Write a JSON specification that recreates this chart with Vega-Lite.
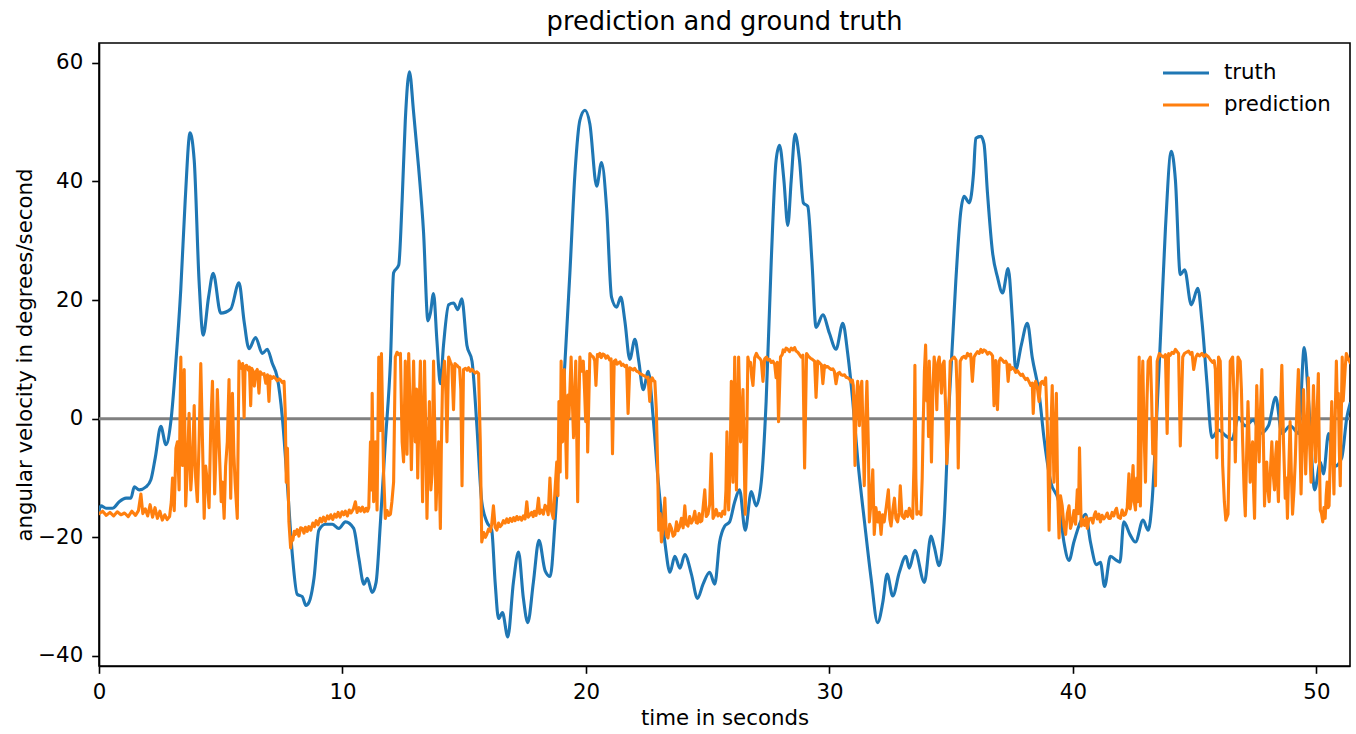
{
"$schema": "https://vega.github.io/schema/vega-lite/v6.json",
"width": 1251, "height": 623,
"autosize": {"type": "none"},
"padding": {"left": 99, "top": 43, "right": 6, "bottom": 68},
"background": "white",
"title": {"text": "prediction and ground truth", "fontSize": 25.7, "font": "DejaVu Sans", "fontWeight": "normal", "color": "black", "anchor": "middle", "baseline": "alphabetic", "offset": -12.5},
"config": {
 "font": "DejaVu Sans",
 "view": {"stroke": "black", "strokeWidth": 1.6},
 "axis": {"grid": false, "domainColor": "black", "domainWidth": 1.6, "tickColor": "black", "tickWidth": 1.6, "tickSize": 7.3, "labelFontSize": 21.3, "labelColor": "black", "labelFont": "DejaVu Sans", "titleFont": "DejaVu Sans", "titleFontSize": 21.3, "titleFontWeight": "normal", "titleColor": "black", "labelFlush": false, "labelOverlap": false}
},
"datasets": {
"truth": [
{"t":0,"v":-15.5},{"t":0.08,"v":-14.7},{"t":0.29,"v":-15.1},{"t":0.56,"v":-15.1},{"t":0.83,"v":-14.0},{"t":1.11,"v":-13.4},{"t":1.31,"v":-13.4},{"t":1.45,"v":-11.5},{"t":1.65,"v":-12.0},{"t":1.93,"v":-11.5},{"t":2.13,"v":-10.3},{"t":2.31,"v":-6.6},{"t":2.54,"v":-1.3},{"t":2.75,"v":-4.4},{"t":2.95,"v":-0.5},{"t":3.16,"v":9.7},{"t":3.36,"v":21.9},{"t":3.54,"v":36.8},{"t":3.74,"v":48.2},{"t":3.91,"v":43.6},{"t":4.11,"v":23.2},{"t":4.28,"v":14.1},{"t":4.5,"v":20.5},{"t":4.69,"v":24.5},{"t":5.0,"v":17.8},{"t":5.41,"v":18.5},{"t":5.75,"v":22.9},{"t":5.96,"v":16.4},{"t":6.16,"v":11.8},{"t":6.43,"v":13.7},{"t":6.71,"v":11.0},{"t":6.91,"v":11.7},{"t":7.12,"v":9.3},{"t":7.32,"v":7.0},{"t":7.53,"v":0.2},{"t":7.73,"v":-10.7},{"t":7.94,"v":-22.9},{"t":8.14,"v":-29.6},{"t":8.35,"v":-30.0},{"t":8.5,"v":-31.5},{"t":8.62,"v":-31.0},{"t":8.75,"v":-29.0},{"t":8.83,"v":-26.9},{"t":9.03,"v":-18.8},{"t":9.3,"v":-17.8},{"t":9.58,"v":-17.8},{"t":9.85,"v":-18.5},{"t":10.12,"v":-17.4},{"t":10.46,"v":-18.5},{"t":10.67,"v":-23.5},{"t":10.88,"v":-27.9},{"t":11.02,"v":-26.9},{"t":11.22,"v":-29.3},{"t":11.38,"v":-27.6},{"t":11.56,"v":-17.4},{"t":11.76,"v":-3.9},{"t":11.97,"v":9.7},{"t":12.1,"v":24.6},{"t":12.31,"v":25.9},{"t":12.45,"v":36.8},{"t":12.58,"v":50.3},{"t":12.75,"v":58.5},{"t":12.92,"v":51.7},{"t":13.13,"v":42.2},{"t":13.33,"v":31.4},{"t":13.51,"v":16.5},{"t":13.61,"v":17.8},{"t":13.74,"v":21.1},{"t":13.88,"v":13.1},{"t":14.02,"v":5.9},{"t":14.15,"v":12.4},{"t":14.36,"v":19.2},{"t":14.56,"v":19.5},{"t":14.74,"v":18.4},{"t":14.9,"v":20.2},{"t":15.11,"v":12.4},{"t":15.32,"v":9.7},{"t":15.52,"v":-1.2},{"t":15.72,"v":-14.0},{"t":15.93,"v":-17.4},{"t":16.13,"v":-18.8},{"t":16.27,"v":-27.6},{"t":16.41,"v":-33.7},{"t":16.57,"v":-32.7},{"t":16.79,"v":-36.8},{"t":17.02,"v":-27.6},{"t":17.23,"v":-22.5},{"t":17.43,"v":-30.3},{"t":17.61,"v":-34.4},{"t":17.84,"v":-27.6},{"t":18.07,"v":-20.5},{"t":18.32,"v":-25.6},{"t":18.53,"v":-26.6},{"t":18.73,"v":-17.4},{"t":18.93,"v":-3.9},{"t":19.14,"v":9.7},{"t":19.34,"v":24.6},{"t":19.55,"v":41.5},{"t":19.75,"v":50.3},{"t":19.96,"v":52.0},{"t":20.16,"v":49.7},{"t":20.44,"v":39.2},{"t":20.64,"v":43.2},{"t":20.85,"v":35.4},{"t":21.05,"v":20.5},{"t":21.26,"v":18.8},{"t":21.43,"v":20.5},{"t":21.6,"v":16.4},{"t":21.8,"v":10.0},{"t":22.01,"v":13.4},{"t":22.17,"v":9.7},{"t":22.35,"v":4.9},{"t":22.56,"v":8.0},{"t":22.76,"v":0.2},{"t":22.97,"v":-10.7},{"t":23.24,"v":-20.8},{"t":23.45,"v":-25.9},{"t":23.65,"v":-23.2},{"t":23.86,"v":-25.2},{"t":24.06,"v":-22.9},{"t":24.33,"v":-26.2},{"t":24.58,"v":-30.3},{"t":24.81,"v":-27.9},{"t":25.08,"v":-25.9},{"t":25.29,"v":-27.9},{"t":25.49,"v":-20.8},{"t":25.7,"v":-18.1},{"t":25.9,"v":-17.4},{"t":26.11,"v":-14.0},{"t":26.31,"v":-12.0},{"t":26.54,"v":-18.8},{"t":26.79,"v":-12.3},{"t":26.99,"v":-14.7},{"t":27.2,"v":-10.7},{"t":27.4,"v":2.9},{"t":27.61,"v":26.6},{"t":27.81,"v":43.6},{"t":27.95,"v":46.1},{"t":28.13,"v":40.2},{"t":28.29,"v":32.6},{"t":28.43,"v":40.2},{"t":28.59,"v":48.0},{"t":28.77,"v":43.6},{"t":28.93,"v":36.4},{"t":29.11,"v":35.8},{"t":29.28,"v":26.6},{"t":29.45,"v":15.4},{"t":29.73,"v":17.5},{"t":30.0,"v":14.4},{"t":30.27,"v":11.7},{"t":30.55,"v":16.1},{"t":30.75,"v":11.0},{"t":30.96,"v":2.9},{"t":31.17,"v":-7.3},{"t":31.44,"v":-17.4},{"t":31.71,"v":-26.9},{"t":31.98,"v":-34.4},{"t":32.19,"v":-31.0},{"t":32.37,"v":-26.2},{"t":32.6,"v":-29.9},{"t":32.87,"v":-25.9},{"t":33.14,"v":-23.2},{"t":33.28,"v":-25.2},{"t":33.51,"v":-22.2},{"t":33.9,"v":-27.6},{"t":34.17,"v":-19.8},{"t":34.3,"v":-21.5},{"t":34.51,"v":-24.8},{"t":34.71,"v":-17.4},{"t":34.92,"v":2.9},{"t":35.19,"v":23.2},{"t":35.39,"v":34.8},{"t":35.53,"v":37.5},{"t":35.74,"v":36.4},{"t":35.92,"v":41.5},{"t":36.01,"v":47.3},{"t":36.22,"v":47.6},{"t":36.35,"v":46.3},{"t":36.49,"v":38.1},{"t":36.7,"v":28.0},{"t":36.9,"v":23.9},{"t":37.11,"v":21.2},{"t":37.34,"v":25.3},{"t":37.52,"v":16.4},{"t":37.65,"v":8.3},{"t":37.88,"v":12.4},{"t":38.13,"v":16.1},{"t":38.33,"v":10.3},{"t":38.61,"v":4.3},{"t":38.81,"v":-3.2},{"t":39.09,"v":-10.7},{"t":39.42,"v":-14.0},{"t":39.63,"v":-20.8},{"t":39.84,"v":-23.9},{"t":40.04,"v":-20.8},{"t":40.31,"v":-17.4},{"t":40.52,"v":-16.1},{"t":40.72,"v":-20.8},{"t":40.97,"v":-24.6},{"t":41.13,"v":-24.2},{"t":41.3,"v":-28.3},{"t":41.54,"v":-23.2},{"t":41.79,"v":-23.9},{"t":41.93,"v":-24.2},{"t":42.09,"v":-17.4},{"t":42.34,"v":-19.5},{"t":42.57,"v":-20.8},{"t":42.88,"v":-17.1},{"t":43.09,"v":-18.8},{"t":43.25,"v":-14.0},{"t":43.39,"v":-3.9},{"t":43.59,"v":13.1},{"t":43.8,"v":32.1},{"t":44.04,"v":45.1},{"t":44.21,"v":40.2},{"t":44.41,"v":24.3},{"t":44.59,"v":25.1},{"t":44.86,"v":19.2},{"t":45.13,"v":22.0},{"t":45.3,"v":16.4},{"t":45.5,"v":6.3},{"t":45.71,"v":-3.2},{"t":45.98,"v":-1.9},{"t":46.28,"v":-2.9},{"t":46.53,"v":-3.5},{"t":46.8,"v":0.2},{"t":47.08,"v":-1.2},{"t":47.42,"v":-0.2},{"t":47.69,"v":-2.5},{"t":48.03,"v":-1.2},{"t":48.33,"v":3.6},{"t":48.58,"v":-2.5},{"t":48.93,"v":-1.2},{"t":49.27,"v":-2.5},{"t":49.5,"v":12.0},{"t":49.68,"v":2.9},{"t":49.93,"v":-12.0},{"t":50.16,"v":-7.3},{"t":50.29,"v":-9.3},{"t":50.5,"v":-2.5},{"t":50.77,"v":-8.0},{"t":51.04,"v":-6.6},{"t":51.25,"v":0.2},{"t":51.38,"v":2.5}
],
"pred": [
{"t":0,"v":-16.0},{"t":0.15,"v":-15.6},{"t":0.3,"v":-16.3},{"t":0.45,"v":-15.8},{"t":0.6,"v":-16.4},{"t":0.75,"v":-15.7},{"t":0.9,"v":-16.2},{"t":1.05,"v":-15.9},{"t":1.2,"v":-16.5},{"t":1.35,"v":-15.6},{"t":1.5,"v":-16.3},{"t":1.62,"v":-15.5},{"t":1.72,"v":-12.7},{"t":1.8,"v":-16.0},{"t":1.9,"v":-15.2},{"t":2.0,"v":-16.4},{"t":2.1,"v":-14.5},{"t":2.2,"v":-16.6},{"t":2.3,"v":-15.0},{"t":2.4,"v":-16.8},{"t":2.5,"v":-15.6},{"t":2.6,"v":-17.1},{"t":2.7,"v":-16.2},{"t":2.8,"v":-17.0},{"t":2.9,"v":-16.5},{"t":2.97,"v":-14.0},{"t":3.02,"v":-10.0},{"t":3.09,"v":-15.5},{"t":3.16,"v":-5.0},{"t":3.22,"v":-3.9},{"t":3.29,"v":-12.0},{"t":3.36,"v":10.4},{"t":3.43,"v":-7.9},{"t":3.5,"v":8.3},{"t":3.56,"v":-14.7},{"t":3.63,"v":-8},{"t":3.7,"v":0.9},{"t":3.77,"v":-12},{"t":3.84,"v":-7.3},{"t":3.91,"v":2.2},{"t":3.97,"v":-10},{"t":4.04,"v":-14.0},{"t":4.11,"v":-4},{"t":4.18,"v":9.3},{"t":4.25,"v":-3.9},{"t":4.32,"v":-16.8},{"t":4.38,"v":-8},{"t":4.45,"v":-10.7},{"t":4.52,"v":-15},{"t":4.59,"v":-1.2},{"t":4.66,"v":6.3},{"t":4.75,"v":-12.7},{"t":4.81,"v":-5},{"t":4.86,"v":4.9},{"t":4.96,"v":-7.3},{"t":5.02,"v":-14},{"t":5.07,"v":-10.7},{"t":5.14,"v":-16.8},{"t":5.2,"v":-8},{"t":5.27,"v":-3.9},{"t":5.34,"v":6.6},{"t":5.41,"v":-13.4},{"t":5.48,"v":4.3},{"t":5.54,"v":-6},{"t":5.59,"v":-10.7},{"t":5.68,"v":-16.8},{"t":5.75,"v":9.7},{"t":5.8,"v":9.0},{"t":5.85,"v":8.5},{"t":5.9,"v":9.3},{"t":5.96,"v":0.2},{"t":6.0,"v":8.8},{"t":6.06,"v":9.0},{"t":6.13,"v":8.2},{"t":6.18,"v":8.7},{"t":6.23,"v":2.2},{"t":6.27,"v":8.5},{"t":6.33,"v":8.0},{"t":6.38,"v":5.5},{"t":6.43,"v":7.8},{"t":6.5,"v":8.3},{"t":6.57,"v":4.3},{"t":6.62,"v":7.9},{"t":6.7,"v":7.5},{"t":6.78,"v":7.6},{"t":6.85,"v":6.0},{"t":6.92,"v":7.4},{"t":6.98,"v":2.9},{"t":7.03,"v":7.2},{"t":7.1,"v":6.8},{"t":7.17,"v":7.1},{"t":7.25,"v":6.8},{"t":7.32,"v":6.4},{"t":7.4,"v":6.7},{"t":7.46,"v":6.5},{"t":7.53,"v":6.1},{"t":7.6,"v":6.3},{"t":7.65,"v":1.0},{"t":7.69,"v":-10.7},{"t":7.74,"v":-5},{"t":7.8,"v":-17.4},{"t":7.87,"v":-21.8},{"t":7.92,"v":-20.0},{"t":7.96,"v":-20.5},{"t":8.02,"v":-19.0},{"t":8.07,"v":-19.5},{"t":8.14,"v":-18.7},{"t":8.21,"v":-19.8},{"t":8.28,"v":-18.4},{"t":8.35,"v":-18.5},{"t":8.42,"v":-19.3},{"t":8.48,"v":-18.3},{"t":8.55,"v":-19.0},{"t":8.62,"v":-18.2},{"t":8.7,"v":-18.8},{"t":8.78,"v":-17.6},{"t":8.85,"v":-18.2},{"t":8.92,"v":-17.2},{"t":9.0,"v":-17.9},{"t":9.08,"v":-16.8},{"t":9.15,"v":-17.4},{"t":9.22,"v":-16.6},{"t":9.3,"v":-17.3},{"t":9.38,"v":-16.4},{"t":9.45,"v":-16.9},{"t":9.52,"v":-16.2},{"t":9.6,"v":-17.0},{"t":9.68,"v":-16.1},{"t":9.75,"v":-16.6},{"t":9.82,"v":-15.8},{"t":9.9,"v":-16.6},{"t":9.98,"v":-15.7},{"t":10.05,"v":-16.2},{"t":10.12,"v":-15.6},{"t":10.2,"v":-16.4},{"t":10.28,"v":-15.4},{"t":10.35,"v":-15.9},{"t":10.45,"v":-15.2},{"t":10.53,"v":-14.0},{"t":10.6,"v":-15.8},{"t":10.68,"v":-15.0},{"t":10.75,"v":-15.6},{"t":10.82,"v":-14.9},{"t":10.9,"v":-15.7},{"t":10.97,"v":-15.1},{"t":11.03,"v":-15.6},{"t":11.08,"v":-15.0},{"t":11.15,"v":-3.9},{"t":11.19,"v":-12},{"t":11.22,"v":4.3},{"t":11.28,"v":-14.0},{"t":11.35,"v":-3.9},{"t":11.42,"v":-15.4},{"t":11.49,"v":10.4},{"t":11.55,"v":-2},{"t":11.6,"v":11.0},{"t":11.65,"v":0},{"t":11.69,"v":-9.3},{"t":11.76,"v":-16.8},{"t":11.83,"v":-15.5},{"t":11.9,"v":-16.3},{"t":11.97,"v":-16.1},{"t":12.03,"v":-14},{"t":12.1,"v":-10.7},{"t":12.17,"v":10.4},{"t":12.24,"v":11.2},{"t":12.31,"v":10.8},{"t":12.38,"v":11.0},{"t":12.45,"v":-3.9},{"t":12.51,"v":-7.3},{"t":12.58,"v":9.7},{"t":12.65,"v":-6},{"t":12.72,"v":11.0},{"t":12.78,"v":1},{"t":12.83,"v":-8.6},{"t":12.92,"v":9.7},{"t":12.99,"v":-3.9},{"t":13.04,"v":5},{"t":13.09,"v":-10.0},{"t":13.15,"v":2},{"t":13.2,"v":9.7},{"t":13.29,"v":-14.0},{"t":13.37,"v":9.7},{"t":13.42,"v":-2},{"t":13.47,"v":-16.8},{"t":13.52,"v":-6},{"t":13.57,"v":2.9},{"t":13.63,"v":-12},{"t":13.68,"v":-9.3},{"t":13.74,"v":9.7},{"t":13.8,"v":-4},{"t":13.84,"v":-15.4},{"t":13.9,"v":-8},{"t":13.95,"v":-3.9},{"t":14.02,"v":-18.5},{"t":14.06,"v":-5},{"t":14.11,"v":6.3},{"t":14.19,"v":9.7},{"t":14.25,"v":4},{"t":14.29,"v":-3.9},{"t":14.36,"v":10.4},{"t":14.43,"v":9.6},{"t":14.49,"v":9.0},{"t":14.56,"v":1.5},{"t":14.62,"v":9.3},{"t":14.7,"v":9.0},{"t":14.76,"v":8.7},{"t":14.81,"v":8.6},{"t":14.86,"v":5},{"t":14.91,"v":-11.3},{"t":14.97,"v":8.3},{"t":15.05,"v":8.5},{"t":15.12,"v":8.2},{"t":15.18,"v":8.6},{"t":15.25,"v":8.0},{"t":15.32,"v":8.3},{"t":15.38,"v":8.0},{"t":15.45,"v":7.7},{"t":15.52,"v":7.9},{"t":15.59,"v":7.6},{"t":15.66,"v":-3.9},{"t":15.72,"v":-20.8},{"t":15.8,"v":-19.2},{"t":15.87,"v":-20.0},{"t":15.93,"v":-19.5},{"t":16.0,"v":-18.6},{"t":16.07,"v":-19.0},{"t":16.13,"v":-17.8},{"t":16.2,"v":-14.7},{"t":16.27,"v":-18.3},{"t":16.34,"v":-18.8},{"t":16.41,"v":-17.6},{"t":16.48,"v":-18.2},{"t":16.54,"v":-17.9},{"t":16.61,"v":-17.2},{"t":16.68,"v":-17.6},{"t":16.75,"v":-16.9},{"t":16.82,"v":-17.5},{"t":16.89,"v":-16.8},{"t":16.96,"v":-17.3},{"t":17.03,"v":-16.7},{"t":17.09,"v":-17.2},{"t":17.16,"v":-16.5},{"t":17.22,"v":-17.0},{"t":17.29,"v":-16.6},{"t":17.36,"v":-17.1},{"t":17.43,"v":-16.4},{"t":17.5,"v":-16.9},{"t":17.57,"v":-14.0},{"t":17.63,"v":-16.6},{"t":17.7,"v":-16.2},{"t":17.77,"v":-15.8},{"t":17.83,"v":-16.5},{"t":17.88,"v":-15.6},{"t":17.95,"v":-16.3},{"t":18.0,"v":-15.2},{"t":18.05,"v":-13.4},{"t":18.1,"v":-16.0},{"t":18.18,"v":-15.4},{"t":18.25,"v":-16.1},{"t":18.32,"v":-14.6},{"t":18.39,"v":-15.0},{"t":18.45,"v":-16.2},{"t":18.52,"v":-10.0},{"t":18.58,"v":-15.5},{"t":18.66,"v":-16.8},{"t":18.73,"v":-12},{"t":18.8,"v":-7.3},{"t":18.85,"v":-13},{"t":18.89,"v":2.9},{"t":18.94,"v":-9},{"t":18.98,"v":9.7},{"t":19.04,"v":-3.9},{"t":19.11,"v":8.3},{"t":19.16,"v":-2},{"t":19.21,"v":-10.0},{"t":19.26,"v":4},{"t":19.3,"v":0.2},{"t":19.39,"v":10.4},{"t":19.44,"v":3},{"t":19.49,"v":-3.2},{"t":19.58,"v":9.7},{"t":19.66,"v":-14.0},{"t":19.7,"v":0},{"t":19.75,"v":10.4},{"t":19.82,"v":8},{"t":19.89,"v":9.7},{"t":19.94,"v":5},{"t":19.99,"v":-0.5},{"t":20.04,"v":8},{"t":20.07,"v":-5.6},{"t":20.16,"v":11.0},{"t":20.23,"v":10.6},{"t":20.3,"v":10.4},{"t":20.36,"v":9.8},{"t":20.41,"v":5.6},{"t":20.47,"v":10.8},{"t":20.52,"v":10.5},{"t":20.57,"v":11.0},{"t":20.63,"v":10.3},{"t":20.69,"v":10.9},{"t":20.75,"v":10.8},{"t":20.82,"v":10.2},{"t":20.88,"v":10.6},{"t":20.92,"v":10.4},{"t":20.97,"v":9.9},{"t":21.03,"v":10.1},{"t":21.09,"v":-5.9},{"t":21.16,"v":9.7},{"t":21.22,"v":9.9},{"t":21.28,"v":9.2},{"t":21.33,"v":9.4},{"t":21.4,"v":9.6},{"t":21.46,"v":9.0},{"t":21.52,"v":9.2},{"t":21.6,"v":8.8},{"t":21.67,"v":9.0},{"t":21.73,"v":0.9},{"t":21.8,"v":8.6},{"t":21.87,"v":8.4},{"t":21.94,"v":8.2},{"t":22.0,"v":8.5},{"t":22.08,"v":8.0},{"t":22.15,"v":7.9},{"t":22.21,"v":7.6},{"t":22.28,"v":7.5},{"t":22.35,"v":7.3},{"t":22.42,"v":7.2},{"t":22.49,"v":6.9},{"t":22.55,"v":7.0},{"t":22.62,"v":2.9},{"t":22.67,"v":6.5},{"t":22.72,"v":6.9},{"t":22.78,"v":6.4},{"t":22.83,"v":6.3},{"t":22.89,"v":1.5},{"t":22.94,"v":-7.3},{"t":22.99,"v":-18.8},{"t":23.05,"v":-16},{"t":23.1,"v":-20.8},{"t":23.17,"v":-18.2},{"t":23.24,"v":-13.4},{"t":23.3,"v":-19.6},{"t":23.37,"v":-20.1},{"t":23.44,"v":-17.8},{"t":23.51,"v":-18.5},{"t":23.58,"v":-19.8},{"t":23.65,"v":-19.5},{"t":23.72,"v":-17.4},{"t":23.78,"v":-18.9},{"t":23.85,"v":-18.2},{"t":23.92,"v":-16.8},{"t":23.99,"v":-18.4},{"t":24.06,"v":-14.7},{"t":24.12,"v":-17.8},{"t":24.19,"v":-18.1},{"t":24.26,"v":-16.5},{"t":24.33,"v":-17.6},{"t":24.4,"v":-17.0},{"t":24.47,"v":-15.6},{"t":24.53,"v":-17.5},{"t":24.58,"v":-17.6},{"t":24.65,"v":-16.0},{"t":24.7,"v":-17.4},{"t":24.76,"v":-17.2},{"t":24.81,"v":-15.0},{"t":24.88,"v":-12.0},{"t":24.94,"v":-16.5},{"t":25.01,"v":-16.1},{"t":25.08,"v":-14.5},{"t":25.15,"v":-5.9},{"t":25.22,"v":-16.8},{"t":25.29,"v":-16.2},{"t":25.35,"v":-15.3},{"t":25.42,"v":-16.4},{"t":25.49,"v":-16.0},{"t":25.56,"v":-16.5},{"t":25.62,"v":-15.6},{"t":25.7,"v":-16.1},{"t":25.75,"v":-12},{"t":25.79,"v":-2.2},{"t":25.86,"v":-15.4},{"t":25.92,"v":-8},{"t":25.97,"v":6.3},{"t":26.04,"v":-10.7},{"t":26.11,"v":10.4},{"t":26.18,"v":-12.0},{"t":26.27,"v":10.4},{"t":26.35,"v":-3.9},{"t":26.45,"v":4.9},{"t":26.54,"v":-16.1},{"t":26.6,"v":-4},{"t":26.65,"v":10.4},{"t":26.71,"v":9.0},{"t":26.76,"v":9.5},{"t":26.81,"v":7},{"t":26.86,"v":5.6},{"t":26.93,"v":10.3},{"t":27.0,"v":11.0},{"t":27.07,"v":10.4},{"t":27.13,"v":10.2},{"t":27.2,"v":9.8},{"t":27.27,"v":6.3},{"t":27.34,"v":10.1},{"t":27.41,"v":10.4},{"t":27.47,"v":9.9},{"t":27.54,"v":10.0},{"t":27.61,"v":9.5},{"t":27.68,"v":9.7},{"t":27.75,"v":9.2},{"t":27.81,"v":6.9},{"t":27.86,"v":9.5},{"t":27.91,"v":-0.5},{"t":27.99,"v":10.4},{"t":28.06,"v":10.8},{"t":28.1,"v":11.6},{"t":28.16,"v":11.3},{"t":28.22,"v":11.9},{"t":28.29,"v":11.7},{"t":28.36,"v":11.3},{"t":28.43,"v":11.9},{"t":28.5,"v":11.6},{"t":28.57,"v":12.0},{"t":28.63,"v":11.4},{"t":28.7,"v":11.2},{"t":28.77,"v":10.8},{"t":28.84,"v":10.4},{"t":28.91,"v":10.7},{"t":28.98,"v":-8.3},{"t":29.06,"v":11.0},{"t":29.14,"v":10.5},{"t":29.22,"v":10.2},{"t":29.3,"v":10.0},{"t":29.39,"v":9.7},{"t":29.45,"v":3.6},{"t":29.52,"v":9.7},{"t":29.6,"v":9.4},{"t":29.67,"v":9.1},{"t":29.73,"v":5.9},{"t":29.8,"v":9.0},{"t":29.87,"v":8.7},{"t":29.93,"v":8.8},{"t":30.0,"v":8.5},{"t":30.07,"v":8.3},{"t":30.14,"v":8.4},{"t":30.2,"v":8.0},{"t":30.27,"v":5.9},{"t":30.34,"v":7.6},{"t":30.41,"v":7.8},{"t":30.48,"v":7.4},{"t":30.55,"v":7.3},{"t":30.62,"v":7.4},{"t":30.68,"v":7.0},{"t":30.75,"v":6.9},{"t":30.82,"v":6.7},{"t":30.89,"v":6.2},{"t":30.94,"v":6.5},{"t":30.98,"v":5.6},{"t":31.05,"v":-7.9},{"t":31.1,"v":3},{"t":31.16,"v":6.3},{"t":31.23,"v":-1.2},{"t":31.28,"v":5},{"t":31.33,"v":6.3},{"t":31.43,"v":-11.3},{"t":31.49,"v":0},{"t":31.54,"v":6.3},{"t":31.6,"v":-5},{"t":31.64,"v":-17.4},{"t":31.71,"v":-14},{"t":31.78,"v":-8.6},{"t":31.84,"v":-19.5},{"t":31.91,"v":-15},{"t":31.98,"v":-17.4},{"t":32.05,"v":-15.8},{"t":32.12,"v":-19.5},{"t":32.18,"v":-16.2},{"t":32.25,"v":-17.4},{"t":32.33,"v":-15},{"t":32.42,"v":-12.0},{"t":32.48,"v":-17},{"t":32.53,"v":-18.1},{"t":32.6,"v":-15.5},{"t":32.67,"v":-13.4},{"t":32.73,"v":-16.8},{"t":32.8,"v":-17.4},{"t":32.86,"v":-15.8},{"t":32.91,"v":-11.3},{"t":32.98,"v":-16.4},{"t":33.07,"v":-16.8},{"t":33.14,"v":-15.6},{"t":33.21,"v":-16.5},{"t":33.28,"v":-15.1},{"t":33.35,"v":-16.3},{"t":33.42,"v":-16.8},{"t":33.47,"v":-8},{"t":33.51,"v":9.0},{"t":33.55,"v":-10},{"t":33.59,"v":-16.1},{"t":33.67,"v":-15.7},{"t":33.76,"v":-16.2},{"t":33.81,"v":-10},{"t":33.85,"v":-1.2},{"t":33.9,"v":8},{"t":33.95,"v":12.4},{"t":34.0,"v":3},{"t":34.03,"v":6.3},{"t":34.07,"v":-3},{"t":34.1,"v":9.7},{"t":34.15,"v":2},{"t":34.19,"v":-7.3},{"t":34.25,"v":5},{"t":34.3,"v":10.4},{"t":34.36,"v":8},{"t":34.41,"v":1.5},{"t":34.46,"v":9.5},{"t":34.51,"v":10.4},{"t":34.56,"v":7},{"t":34.6,"v":4.3},{"t":34.66,"v":9.2},{"t":34.71,"v":9.7},{"t":34.77,"v":2},{"t":34.82,"v":-7.6},{"t":34.88,"v":-2.5},{"t":34.96,"v":9.7},{"t":35.04,"v":10.1},{"t":35.12,"v":10.4},{"t":35.2,"v":9.9},{"t":35.25,"v":4},{"t":35.29,"v":-8.3},{"t":35.37,"v":9.7},{"t":35.45,"v":10.3},{"t":35.53,"v":10.5},{"t":35.6,"v":10.2},{"t":35.67,"v":11.0},{"t":35.74,"v":10.6},{"t":35.8,"v":10.9},{"t":35.87,"v":6.3},{"t":35.94,"v":10.4},{"t":36.01,"v":10.9},{"t":36.08,"v":11.3},{"t":36.15,"v":11.0},{"t":36.22,"v":11.7},{"t":36.28,"v":11.2},{"t":36.35,"v":11.6},{"t":36.42,"v":11.4},{"t":36.49,"v":10.9},{"t":36.56,"v":11.2},{"t":36.63,"v":11.0},{"t":36.7,"v":10.6},{"t":36.76,"v":2.2},{"t":36.83,"v":9.8},{"t":36.9,"v":1.5},{"t":36.97,"v":9.7},{"t":37.03,"v":10.2},{"t":37.1,"v":9.9},{"t":37.17,"v":9.5},{"t":37.24,"v":9.7},{"t":37.29,"v":9.3},{"t":37.34,"v":6.3},{"t":37.4,"v":9.1},{"t":37.45,"v":8.3},{"t":37.52,"v":8.6},{"t":37.58,"v":8.4},{"t":37.65,"v":7.8},{"t":37.72,"v":8.1},{"t":37.79,"v":7.7},{"t":37.86,"v":7.3},{"t":37.93,"v":7.5},{"t":37.99,"v":7.0},{"t":38.06,"v":6.6},{"t":38.13,"v":6.8},{"t":38.2,"v":6.2},{"t":38.27,"v":5.6},{"t":38.33,"v":6.0},{"t":38.37,"v":0.9},{"t":38.42,"v":5.5},{"t":38.47,"v":6.3},{"t":38.54,"v":5.2},{"t":38.61,"v":2.9},{"t":38.67,"v":6.0},{"t":38.74,"v":6.3},{"t":38.81,"v":5.8},{"t":38.88,"v":6.9},{"t":38.95,"v":-1.2},{"t":39.02,"v":-18.8},{"t":39.08,"v":-3.9},{"t":39.15,"v":5.6},{"t":39.22,"v":-10.7},{"t":39.27,"v":-3},{"t":39.32,"v":4.3},{"t":39.37,"v":-12},{"t":39.43,"v":-20.1},{"t":39.49,"v":-13},{"t":39.56,"v":-14.7},{"t":39.63,"v":-18},{"t":39.7,"v":-19.5},{"t":39.77,"v":-16},{"t":39.84,"v":-14.7},{"t":39.9,"v":-18.5},{"t":39.97,"v":-17.4},{"t":40.04,"v":-15.5},{"t":40.11,"v":-17.8},{"t":40.18,"v":-12.0},{"t":40.23,"v":-16},{"t":40.27,"v":-4.9},{"t":40.34,"v":-18.1},{"t":40.41,"v":-17.0},{"t":40.48,"v":-18.0},{"t":40.55,"v":-16.6},{"t":40.59,"v":-18.5},{"t":40.66,"v":-16.9},{"t":40.75,"v":-16.8},{"t":40.82,"v":-17.6},{"t":40.88,"v":-16.2},{"t":40.93,"v":-15.7},{"t":41.0,"v":-16.9},{"t":41.07,"v":-16.1},{"t":41.13,"v":-17.4},{"t":41.2,"v":-16.3},{"t":41.27,"v":-16.9},{"t":41.34,"v":-16.5},{"t":41.41,"v":-15.9},{"t":41.47,"v":-16.8},{"t":41.54,"v":-16.8},{"t":41.61,"v":-15.8},{"t":41.68,"v":-16.4},{"t":41.74,"v":-15.5},{"t":41.79,"v":-15.1},{"t":41.86,"v":-16.6},{"t":41.95,"v":-16.8},{"t":42.02,"v":-15.4},{"t":42.09,"v":-16.3},{"t":42.16,"v":-16.1},{"t":42.23,"v":-15.0},{"t":42.3,"v":-9.3},{"t":42.35,"v":-15.2},{"t":42.39,"v":-14.0},{"t":42.47,"v":-7.9},{"t":42.52,"v":-14},{"t":42.57,"v":-15.4},{"t":42.62,"v":-10},{"t":42.66,"v":-14.0},{"t":42.69,"v":-5},{"t":42.72,"v":10.4},{"t":42.77,"v":-14.7},{"t":42.82,"v":2},{"t":42.87,"v":9.7},{"t":42.92,"v":-2},{"t":42.98,"v":-10.7},{"t":43.04,"v":3},{"t":43.09,"v":9.7},{"t":43.18,"v":10.4},{"t":43.23,"v":4},{"t":43.28,"v":-5.9},{"t":43.34,"v":0},{"t":43.39,"v":-11.3},{"t":43.46,"v":9.7},{"t":43.55,"v":11.0},{"t":43.64,"v":10.6},{"t":43.73,"v":10.4},{"t":43.8,"v":10.8},{"t":43.87,"v":-2.5},{"t":43.93,"v":11.0},{"t":44.0,"v":10.7},{"t":44.07,"v":11.2},{"t":44.14,"v":11.0},{"t":44.21,"v":11.7},{"t":44.28,"v":11.3},{"t":44.34,"v":11.0},{"t":44.41,"v":-4.6},{"t":44.51,"v":10.4},{"t":44.58,"v":11.0},{"t":44.66,"v":11.2},{"t":44.75,"v":11.4},{"t":44.82,"v":10.9},{"t":44.89,"v":11.2},{"t":44.96,"v":8.3},{"t":45.05,"v":10.4},{"t":45.12,"v":10.9},{"t":45.2,"v":10.6},{"t":45.3,"v":11.0},{"t":45.38,"v":10.5},{"t":45.46,"v":10.8},{"t":45.57,"v":10.4},{"t":45.65,"v":9.9},{"t":45.74,"v":9.5},{"t":45.8,"v":9.8},{"t":45.85,"v":8.3},{"t":45.91,"v":-6.6},{"t":45.98,"v":10.4},{"t":46.05,"v":9.7},{"t":46.1,"v":2},{"t":46.15,"v":-7.9},{"t":46.22,"v":-14},{"t":46.28,"v":-17.1},{"t":46.37,"v":-16.1},{"t":46.42,"v":-5},{"t":46.46,"v":9.7},{"t":46.56,"v":10.4},{"t":46.62,"v":3},{"t":46.67,"v":-7.3},{"t":46.72,"v":2},{"t":46.78,"v":10.4},{"t":46.87,"v":9.7},{"t":46.92,"v":5},{"t":46.97,"v":-3.9},{"t":47.03,"v":-12},{"t":47.08,"v":-16.4},{"t":47.14,"v":-5},{"t":47.19,"v":2.9},{"t":47.24,"v":-4},{"t":47.28,"v":-10.7},{"t":47.33,"v":-6},{"t":47.38,"v":-3.9},{"t":47.42,"v":-12},{"t":47.46,"v":-16.8},{"t":47.51,"v":-4},{"t":47.55,"v":5.6},{"t":47.6,"v":-2},{"t":47.65,"v":-7.3},{"t":47.7,"v":1},{"t":47.76,"v":8.3},{"t":47.82,"v":-3},{"t":47.87,"v":-14.7},{"t":47.91,"v":-9},{"t":47.96,"v":-7.3},{"t":48.01,"v":-12},{"t":48.06,"v":-14.0},{"t":48.12,"v":-8},{"t":48.17,"v":-3.9},{"t":48.22,"v":-9},{"t":48.28,"v":-12.0},{"t":48.33,"v":-6},{"t":48.37,"v":-3.9},{"t":48.4,"v":-10},{"t":48.44,"v":-14.0},{"t":48.5,"v":-2},{"t":48.58,"v":9.0},{"t":48.65,"v":-4},{"t":48.72,"v":-13.4},{"t":48.77,"v":-10},{"t":48.81,"v":-16.8},{"t":48.87,"v":-8},{"t":48.92,"v":-0.5},{"t":48.97,"v":-9},{"t":49.02,"v":-16.1},{"t":49.08,"v":-12},{"t":49.13,"v":-7.3},{"t":49.2,"v":2},{"t":49.26,"v":8.3},{"t":49.32,"v":-3},{"t":49.37,"v":-12.7},{"t":49.42,"v":-4},{"t":49.47,"v":4.9},{"t":49.52,"v":-2},{"t":49.56,"v":-9.3},{"t":49.62,"v":-1},{"t":49.67,"v":6.9},{"t":49.72,"v":-4},{"t":49.78,"v":-10.7},{"t":49.83,"v":-2},{"t":49.88,"v":5.6},{"t":49.93,"v":-2},{"t":49.97,"v":-7.3},{"t":50.02,"v":0},{"t":50.08,"v":7.6},{"t":50.12,"v":-6},{"t":50.16,"v":-15.4},{"t":50.21,"v":-16},{"t":50.26,"v":-17.4},{"t":50.31,"v":-15},{"t":50.36,"v":-16.8},{"t":50.4,"v":-13},{"t":50.44,"v":-10.7},{"t":50.48,"v":-15},{"t":50.52,"v":-14.7},{"t":50.58,"v":-5},{"t":50.63,"v":2.9},{"t":50.68,"v":-6},{"t":50.72,"v":-12.7},{"t":50.77,"v":0},{"t":50.82,"v":9.7},{"t":50.86,"v":2},{"t":50.9,"v":4.3},{"t":50.94,"v":-5},{"t":50.98,"v":-11.3},{"t":51.02,"v":0},{"t":51.06,"v":10.4},{"t":51.1,"v":3},{"t":51.15,"v":6.3},{"t":51.19,"v":9},{"t":51.23,"v":11.0},{"t":51.28,"v":10.4},{"t":51.38,"v":9.5}
]
},
"layer": [
 {"data": {"values": [{"z": 0}]},
  "mark": {"type": "rule", "color": "#808080", "strokeWidth": 3},
  "encoding": {"y": {"field": "z", "type": "quantitative", "title": "angular velocity in degrees/second"}}},
 {"data": {"name": "truth"},
  "mark": {"type": "line", "strokeWidth": 3.1, "clip": true, "interpolate": "monotone", "strokeJoin": "round", "strokeCap": "square"},
  "encoding": {
   "x": {"field": "t", "type": "quantitative", "title": "time in seconds"},
   "y": {"field": "v", "type": "quantitative", "title": "angular velocity in degrees/second"},
   "color": {"datum": "truth"}}},
 {"data": {"name": "pred"},
  "mark": {"type": "line", "strokeWidth": 3.1, "clip": true, "strokeJoin": "round", "strokeCap": "square"},
  "encoding": {
   "x": {"field": "t", "type": "quantitative", "title": "time in seconds"},
   "y": {"field": "v", "type": "quantitative", "title": "angular velocity in degrees/second"},
   "color": {"datum": "prediction"}}}
],
"encoding": {
 "x": {"type": "quantitative", "scale": {"domain": [0, 51.38], "nice": false, "zero": false},
  "axis": {"values": [0,10,20,30,40,50], "format": "d", "labelPadding": 8, "title": "time in seconds", "titleX": 625.5, "titleY": 58, "titleBaseline": "alphabetic", "titleAlign": "center"}},
 "y": {"type": "quantitative", "scale": {"domain": [-41.7, 63.35], "nice": false, "zero": false},
  "axis": {"values": [-40,-20,0,20,40,60], "format": "d", "labelPadding": 9, "title": "angular velocity in degrees/second", "titleX": -68, "titleY": 311.5, "titleAngle": -90, "titleBaseline": "alphabetic", "titleAlign": "center"}},
 "color": {"type": "nominal", "scale": {"domain": ["truth", "prediction"], "range": ["#1f77b4", "#ff7f0e"]},
  "legend": {"title": null, "orient": "none", "legendX": 1062, "legendY": 14, "symbolType": "stroke", "symbolSize": 2116, "symbolStrokeWidth": 3.1, "labelFontSize": 21.3, "labelColor": "black", "labelFont": "DejaVu Sans", "labelOffset": 13, "clipHeight": 32, "rowPadding": 0, "padding": 0}}
}
}
